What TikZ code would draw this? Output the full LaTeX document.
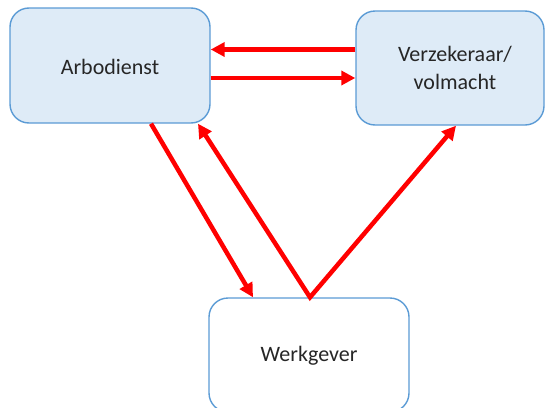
\documentclass[tikz,border=0pt]{standalone}
\usepackage{fontspec}
\setmainfont{Carlito}
\usetikzlibrary{arrows.meta}
\definecolor{boxfill}{HTML}{DEEBF7}
\definecolor{boxline}{HTML}{5B9BD5}
\definecolor{arrred}{HTML}{FF0000}
\tikzset{
  box/.style={draw=boxline, line width=1.4pt, rounded corners=19pt, inner sep=0pt, rectangle},
  bluebox/.style={box, fill=boxfill},
  whitebox/.style={box, fill=white},
  lbl/.style={font=\fontsize{22}{28}\selectfont, align=center, inner sep=0pt, text=black!85},
  arr/.style={draw=arrred, line width=4.5pt, -{Triangle[length=14pt,width=14pt]}},
  arr2/.style={draw=arrred, line width=4.5pt, {Triangle[length=14pt,width=14pt]}-{Triangle[length=14pt,width=14pt]}}
}
\begin{document}
\begin{tikzpicture}[x=1pt,y=-1pt]
\useasboundingbox (0,0) rectangle (545,407);
\clip (0,0) rectangle (545,407);
\node[bluebox, minimum width=200pt, minimum height=115pt] (arbo) at (110,65.5) {};
\node[lbl] (arbot) at (110,66.5) {Arbodienst};
\node[bluebox, minimum width=188pt, minimum height=114pt] (vz) at (450,68) {};
\node[lbl] (vzt) at (455,68) {Verzekeraar/\\volmacht};
\node[whitebox, minimum width=200pt, minimum height=114pt] (wg) at (309,355) {};
\node[lbl] (wgt) at (309,356) {Werkgever};
\draw[arr] (vz.west |- 0,49.5) -- (arbo.east |- 0,49.5);
\draw[arr] (arbo.east |- 0,78) -- (vz.west |- 0,78);
\draw[arr] (151,0 |- arbo.south) -- (253,0 |- wg.north);
\draw[arr2] (198,0 |- arbo.south) -- (310,0 |- wg.north) -- (456,0 |- vz.south);
\end{tikzpicture}
\end{document}
